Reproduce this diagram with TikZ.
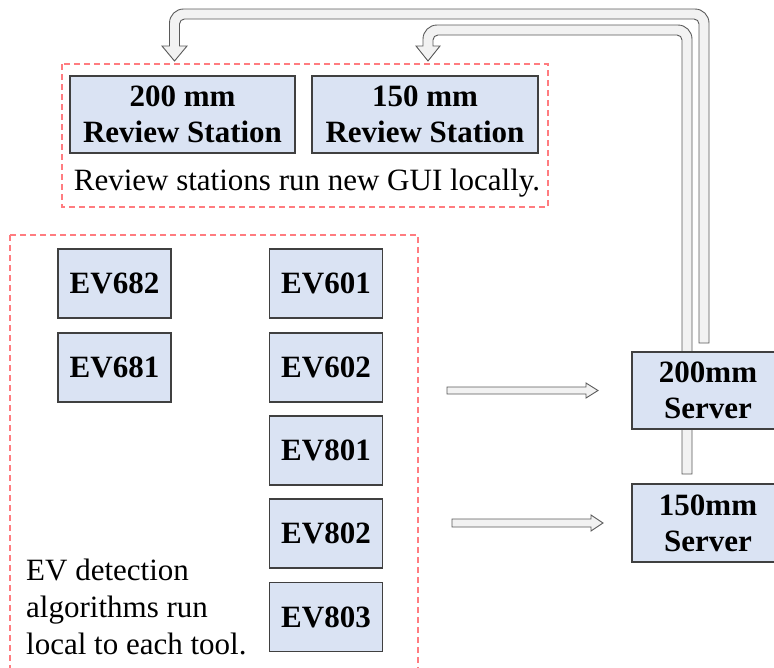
\documentclass[tikz,border=0pt]{standalone}
\usepackage{fontspec}
\setmainfont{Liberation Serif}
\definecolor{boxfill}{HTML}{DAE3F3}
\definecolor{boxline}{HTML}{404040}
\definecolor{grpred}{HTML}{FF7C80}
\definecolor{arrfill}{HTML}{F2F2F2}
\definecolor{arrline}{HTML}{5A5A5A}
\tikzset{
  unit/.style={draw=boxline, fill=boxfill, line width=1.2pt, inner sep=0pt,
    align=center, font=\bfseries\fontsize{31}{36}\selectfont},
  station/.style={unit, minimum width=225pt, minimum height=77pt},
  tool/.style={unit, minimum width=113pt, minimum height=69pt},
  server/.style={unit, minimum width=152pt, minimum height=77pt},
  group/.style={draw=grpred, dash pattern=on 6pt off 4pt, line width=1.5pt},
  blockarrow/.style={draw=arrline, fill=arrfill, line width=0.9pt, line join=miter},
  note/.style={inner sep=0pt, font=\fontsize{31}{37}\selectfont},
}
\begin{document}
\begin{tikzpicture}[x=1pt, y=-1pt]
\useasboundingbox (0,0) rectangle (774,667);

% dashed groupings
\draw[group] (62,64) rectangle (548,207);
\draw[group] (10,235) rectangle (418,690);

% block arrow from the 200mm server up to the 200 mm review station
\draw[blockarrow] (709,343) -- (709,23) .. controls (709,15.27) and (702.73,9) .. (695,9)
  -- (183.5,9) .. controls (175.77,9) and (169.5,15.27) .. (169.5,23)
  -- (169.5,46) -- (162,46) -- (174.5,61) -- (187,46) -- (179.5,46)
  -- (179.5,24) .. controls (179.5,21.24) and (181.74,19) .. (184.5,19)
  -- (694,19) .. controls (696.76,19) and (699,21.24) .. (699,24)
  -- (699,343) -- cycle;

% block arrow from the 150mm server up to the 150 mm review station
\draw[blockarrow] (692,474) -- (692,39) .. controls (692,31.27) and (685.73,25) .. (678,25)
  -- (437,25) .. controls (429.27,25) and (423,31.27) .. (423,39)
  -- (423,46) -- (416,46) -- (428,61) -- (440,46) -- (433,46)
  -- (433,40) .. controls (433,37.24) and (435.24,35) .. (438,35)
  -- (677,35) .. controls (679.76,35) and (682,37.24) .. (682,40)
  -- (682,474) -- cycle;

% tools to servers
\draw[blockarrow] (447,387) -- (586,387) -- (586,383) -- (598,390.5) -- (586,398)
  -- (586,394) -- (447,394) -- cycle;
\draw[blockarrow] (452,519) -- (591,519) -- (591,515) -- (603,523) -- (591,531)
  -- (591,527) -- (452,527) -- cycle;

% review stations
\node[station] (rs200) at (182.5,114.5) {200 mm\\Review Station};
\node[station, minimum width=226pt] (rs150) at (425,114.5) {150 mm\\Review Station};
\node[note, anchor=base] (rsnote) at (307,190) {Review stations run new GUI locally.};

% tools
\node[tool] (ev682) at (114.5,283.5) {EV682};
\node[tool] (ev681) at (114.5,367.5) {EV681};
\node[tool] (ev601) at (326,283.5) {EV601};
\node[tool] (ev602) at (326,367.5) {EV602};
\node[tool] (ev801) at (326,450.5) {EV801};
\node[tool] (ev802) at (326,533.5) {EV802};
\node[tool] (ev803) at (326,617) {EV803};
% base of a multi-line node sits on its last line
\node[note, anchor=base west, align=left] (evnote) at (26,654)
  {EV detection\\algorithms run\\local to each tool.};

% servers
\node[server] (s200) at (708,390.5) {200mm\\Server};
\node[server, minimum height=78pt] (s150) at (708,523) {150mm\\Server};
\end{tikzpicture}
\end{document}
